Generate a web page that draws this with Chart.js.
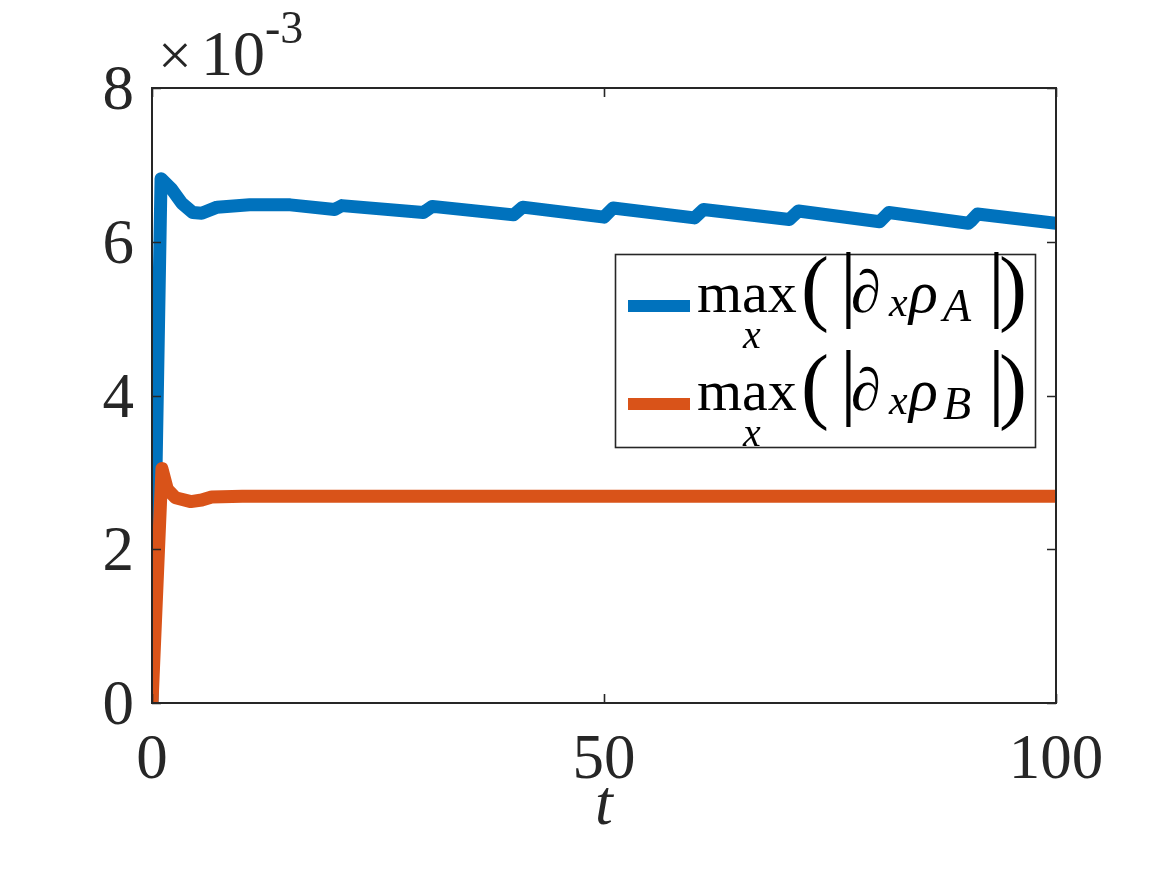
<!DOCTYPE html>
<html>
<head>
<meta charset="utf-8">
<script src="https://cdn.jsdelivr.net/npm/chart.js@4.4.1/dist/chart.umd.min.js"></script>
<style>
html,body{margin:0;padding:0;background:#fff;}
#wrap{width:1167px;height:875px;}
</style>
</head>
<body>
<div id="wrap"><canvas id="c" width="1167" height="875"></canvas></div>
<script>
// time values (t) and values in units of 1e-3
const tA = [0, 1.0, 2.2, 3.3, 4.5, 5.5, 7.2, 10.8, 15.3, 20.2, 21.0, 30.0, 31.0, 40.0, 41.0, 50.0, 51.0, 60.0, 61.0, 70.5, 71.5, 80.5, 81.5, 90.3, 90.6, 91.3, 100];
const maxGradA = [0, 6.82, 6.68, 6.50, 6.38, 6.37, 6.45, 6.48, 6.48, 6.42, 6.47, 6.38, 6.46, 6.35, 6.45, 6.32, 6.44, 6.31, 6.42, 6.29, 6.40, 6.26, 6.38, 6.24, 6.27, 6.36, 6.24];
const tB = [0, 1.1, 1.7, 2.6, 4.3, 5.5, 6.6, 10, 20, 40, 60, 80, 100];
const maxGradB = [0, 3.05, 2.78, 2.67, 2.62, 2.64, 2.68, 2.69, 2.69, 2.69, 2.69, 2.69, 2.69];
const xTicks = [0, 50, 100];
const yTicks = [0, 2, 4, 6, 8];
const exponentLabel = ['\u00d7', '10', '-3'];
const xTitle = 't';

const BLUE = '#0072BD', ORANGE = '#D95319', AX = '#262626';
const SERIF = '"Liberation Serif", "Times New Roman", serif';

const toPts = (xs, ys) => xs.map((x, i) => ({x, y: ys[i]}));

const customAxes = {
  id: 'customAxes',
  afterDraw(chart) {
    const ctx = chart.ctx, a = chart.chartArea;
    const xs = chart.scales.x, ys = chart.scales.y;
    ctx.save();
    ctx.strokeStyle = AX;
    ctx.lineWidth = 1.6;
    ctx.beginPath();
    xTicks.forEach(v => {
      const px = Math.round(xs.getPixelForValue(v)) + 0.5;
      ctx.moveTo(px, a.bottom); ctx.lineTo(px, a.bottom - 9);
      ctx.moveTo(px, a.top); ctx.lineTo(px, a.top + 9);
    });
    yTicks.forEach(v => {
      const py = Math.round(ys.getPixelForValue(v)) + 0.5;
      ctx.moveTo(a.left, py); ctx.lineTo(a.left + 9, py);
      ctx.moveTo(a.right, py); ctx.lineTo(a.right - 9, py);
    });
    ctx.stroke();
    ctx.lineWidth = 2;
    ctx.strokeRect(a.left, a.top, a.right - a.left, a.bottom - a.top);
    // tick labels
    ctx.fillStyle = AX;
    ctx.font = '63px ' + SERIF;
    ctx.textAlign = 'center'; ctx.textBaseline = 'alphabetic';
    xTicks.forEach(v => {
      ctx.fillText(String(v), xs.getPixelForValue(v), a.bottom + 75);
    });
    ctx.textAlign = 'right';
    yTicks.forEach(v => {
      ctx.fillText(String(v), a.left - 18, ys.getPixelForValue(v) + 21);
    });
    // exponent
    ctx.textAlign = 'left';
    ctx.font = '60px ' + SERIF;
    ctx.fillText(exponentLabel[0], 158, 75);
    ctx.font = '64px ' + SERIF;
    ctx.fillText(exponentLabel[1], 201, 75);
    ctx.font = '46px ' + SERIF;
    ctx.fillText(exponentLabel[2], 265, 43);
    // x title
    ctx.textAlign = 'center';
    ctx.font = 'italic 64px ' + SERIF;
    ctx.fillText(xTitle, (a.left + a.right) / 2, 824);

    // legend
    const lx = 615, ly = 254, lw = 420, lh = 193;
    ctx.fillStyle = '#fff';
    ctx.fillRect(lx, ly, lw, lh);
    ctx.lineWidth = 1.6;
    ctx.strokeStyle = AX;
    ctx.strokeRect(lx + 0.5, ly + 0.5, lw, lh);
    const entries = [
      {color: BLUE, sub: 'A', y: 306},
      {color: ORANGE, sub: 'B', y: 404}
    ];
    entries.forEach(e => {
      ctx.strokeStyle = e.color;
      ctx.lineWidth = 12;
      ctx.lineCap = 'butt';
      ctx.beginPath(); ctx.moveTo(628, e.y); ctx.lineTo(690, e.y); ctx.stroke();
      const base = e.y + 6;
      ctx.fillStyle = '#000';
      ctx.textAlign = 'left';
      ctx.font = '58px ' + SERIF;
      ctx.fillText('max', 697, base);
      ctx.font = 'italic 40px ' + SERIF;
      ctx.textAlign = 'center';
      ctx.fillText('x', 752, base + 36);
      ctx.textAlign = 'left';
      ctx.font = '84px ' + SERIF;
      ctx.fillText('(', 801, base + 3);
      ctx.fillText('|', 840, base - 1);
      ctx.font = 'italic 60px ' + SERIF;
      ctx.fillText('\u2202', 851, base);
      ctx.font = 'italic 42px ' + SERIF;
      ctx.fillText('x', 889, base + 4);
      ctx.font = 'italic 60px ' + SERIF;
      ctx.fillText('\u03c1', 909, base);
      ctx.font = 'italic 46px ' + SERIF;
      ctx.fillText(e.sub, 943, base + 9);
      ctx.font = '84px ' + SERIF;
      ctx.fillText('|', 988, base - 1);
      ctx.fillText(')', 999, base + 3);
    });
    ctx.restore();
  }
};

new Chart(document.getElementById('c'), {
  type: 'line',
  data: {
    datasets: [
      {label: 'max_x(|∂xρA|)', data: toPts(tA, maxGradA), borderColor: BLUE, borderWidth: 13, order: 2},
      {label: 'max_x(|∂xρB|)', data: toPts(tB, maxGradB), borderColor: ORANGE, borderWidth: 13, order: 1}
    ]
  },
  options: {
    responsive: false,
    animation: false,
    events: [],
    layout: {padding: {left: 152, right: 111, top: 88, bottom: 172}},
    elements: {
      point: {radius: 0},
      line: {tension: 0, borderJoinStyle: 'round', borderCapStyle: 'butt', fill: false}
    },
    plugins: {legend: {display: false}, tooltip: {enabled: false}},
    scales: {
      x: {type: 'linear', min: 0, max: 100, display: false},
      y: {type: 'linear', min: 0, max: 8, display: false}
    }
  },
  plugins: [customAxes]
});
</script>
</body>
</html>
